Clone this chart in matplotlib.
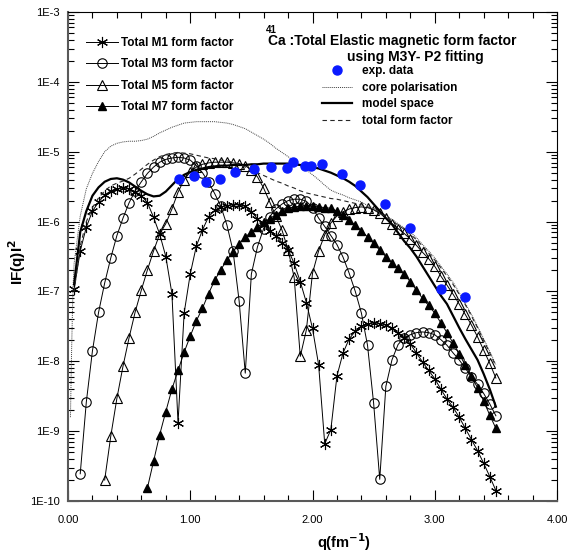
import numpy as np
import matplotlib
matplotlib.use('Agg')
import matplotlib.pyplot as plt
from matplotlib.ticker import FixedLocator, FuncFormatter, LogLocator, NullFormatter, MultipleLocator

plt.rcParams['font.family'] = ['Liberation Sans', 'DejaVu Sans']

# momentum transfer grid of the calculation (fm^-1)
q_grid = [0.05, 0.10, 0.15, 0.20, 0.25, 0.30, 0.35, 0.40, 0.45, 0.50,
          0.55, 0.60, 0.65, 0.70, 0.75, 0.80, 0.85, 0.90, 0.95, 1.00,
          1.05, 1.10, 1.15, 1.20, 1.25, 1.30, 1.35, 1.40, 1.45, 1.50,
          1.55, 1.60, 1.65, 1.70, 1.75, 1.80, 1.85, 1.90, 1.95, 2.00,
          2.05, 2.10, 2.15, 2.20, 2.25, 2.30, 2.35, 2.40, 2.45, 2.50,
          2.55, 2.60, 2.65, 2.70, 2.75, 2.80, 2.85, 2.90, 2.95, 3.00,
          3.05, 3.10, 3.15, 3.20, 3.25, 3.30, 3.35, 3.40, 3.45, 3.50]

# log10 |F(q)|^2
m1_log = [-6.97, -6.42, -6.08, -5.85, -5.72, -5.62, -5.56, -5.53, -5.52, -5.53,
          -5.57, -5.63, -5.73, -5.94, -6.18, -6.50, -7.03, -8.88, -7.31, -6.75,
          -6.35, -6.12, -5.93, -5.84, -5.79, -5.77, -5.76, -5.76, -5.78, -5.86,
          -5.96, -6.05, -6.13, -6.21, -6.30, -6.40, -6.60, -6.86, -7.16, -7.53,
          -8.05, -9.18, -8.98, -8.21, -7.88, -7.68, -7.57, -7.50, -7.47, -7.45,
          -7.46, -7.48, -7.53, -7.59, -7.66, -7.75, -7.88, -8.01, -8.13, -8.25,
          -8.40, -8.54, -8.66, -8.80, -8.96, -9.12, -9.28, -9.46, -9.65, -9.85]

m3_log = [-9.61, -8.58, -7.85, -7.30, -6.88, -6.52, -6.20, -5.95, -5.73,
          -5.56, -5.43, -5.31, -5.22, -5.15, -5.11, -5.09, -5.08, -5.09, -5.12,
          -5.20, -5.30, -5.44, -5.60, -5.78, -6.05, -6.42, -7.14, -8.17, -6.75,
          -6.36, -6.10, -5.93, -5.82, -5.75, -5.70, -5.68, -5.68, -5.71, -5.80,
          -5.95, -6.07, -6.20, -6.33, -6.51, -6.74, -7.00, -7.31, -7.77, -8.60,
          -9.69, -8.36, -7.98, -7.76, -7.66, -7.62, -7.59, -7.58, -7.59, -7.62,
          -7.69, -7.77, -7.88, -7.98, -8.10, -8.22, -8.33, -8.46, -8.61, -8.78]

m5_log = [-9.70, -9.07, -8.53, -8.07, -7.66,
          -7.29, -6.98, -6.69, -6.42, -6.18, -6.03, -5.82, -5.58, -5.40, -5.29,
          -5.22, -5.18, -5.16, -5.15, -5.15, -5.15, -5.16, -5.17, -5.20, -5.26,
          -5.36, -5.52, -5.72, -5.92, -6.12, -6.40, -6.80, -7.93, -7.55, -6.74,
          -6.42, -6.19, -6.02, -5.92, -5.86, -5.82, -5.80, -5.79, -5.80, -5.83,
          -5.88, -5.95, -6.03, -6.10, -6.17, -6.25, -6.34, -6.44, -6.53, -6.64,
          -6.78, -6.91, -7.04, -7.18, -7.33, -7.48, -7.65, -7.84, -8.03, -8.24]

m7_log = [-9.81, -9.43, -9.05, -8.72, -8.40, -8.13, -7.87, -7.64,
          -7.42, -7.24, -7.03, -6.84, -6.69, -6.55, -6.43, -6.32, -6.22, -6.15,
          -6.08, -6.01, -5.96, -5.90, -5.85, -5.81, -5.79, -5.78, -5.78, -5.78,
          -5.79, -5.80, -5.81, -5.85, -5.91, -5.98, -6.05, -6.13, -6.22, -6.31,
          -6.41, -6.50, -6.59, -6.67, -6.75, -6.86, -6.98, -7.10, -7.20, -7.31,
          -7.45, -7.59, -7.74, -7.89, -8.06, -8.21, -8.38, -8.57, -8.77, -8.96]

core_q_start = [0.02, 0.03, 0.04]
core_log = [-8.80, -7.80, -7.00,
            -6.60, -5.92, -5.53, -5.31, -5.14, -5.00, -4.92, -4.88, -4.86, -4.85,
            -4.85, -4.84, -4.82, -4.78, -4.73, -4.69, -4.65, -4.62, -4.59, -4.58,
            -4.57, -4.57, -4.57, -4.57, -4.58, -4.59, -4.61, -4.64, -4.67, -4.72,
            -4.77, -4.82, -4.88, -4.95, -5.01, -5.07, -5.14, -5.20, -5.26, -5.33,
            -5.40, -5.48, -5.55, -5.59, -5.62, -5.66, -5.69, -5.72, -5.77, -5.81,
            -5.86, -5.91, -5.97, -6.03, -6.09, -6.15, -6.23, -6.33, -6.42, -6.52,
            -6.64, -6.75, -6.87, -7.02, -7.17, -7.33, -7.50, -7.68, -7.86, -8.05]

model_log = [-6.90, -6.15, -5.85, -5.63, -5.51, -5.43, -5.39, -5.38, -5.40, -5.44,
             -5.50, -5.56, -5.61, -5.64, -5.63, -5.57, -5.48, -5.39, -5.33, -5.29,
             -5.26, -5.24, -5.22, -5.21, -5.20, -5.20, -5.19, -5.19, -5.19, -5.18,
             -5.18, -5.17, -5.17, -5.17, -5.17, -5.17, -5.18, -5.19, -5.20, -5.22,
             -5.24, -5.27, -5.30, -5.34, -5.38, -5.43, -5.49, -5.57, -5.65, -5.75,
             -5.85, -5.95, -6.04, -6.16, -6.28, -6.38, -6.50, -6.64, -6.78, -6.92,
             -7.06, -7.18, -7.35, -7.52, -7.68, -7.83, -7.98, -8.18, -8.40, -8.65]

total_log = [-7.00, -6.35, -6.00, -5.80, -5.66, -5.56, -5.49, -5.45, -5.42, -5.38,
             -5.32, -5.25, -5.18, -5.12, -5.07, -5.04, -5.02, -5.01, -5.02, -5.03,
             -5.05, -5.07, -5.09, -5.10, -5.12, -5.13, -5.15, -5.18, -5.22, -5.26,
             -5.30, -5.34, -5.38, -5.42, -5.45, -5.49, -5.52, -5.56, -5.59, -5.61,
             -5.63, -5.65, -5.67, -5.68, -5.70, -5.72, -5.74, -5.76, -5.79, -5.83,
             -5.88, -5.93, -5.99, -6.05, -6.11, -6.18, -6.26, -6.35, -6.45, -6.55,
             -6.66, -6.78, -6.90, -7.04, -7.19, -7.35, -7.52, -7.70, -7.88, -8.07]

exp_q = [0.91, 1.03, 1.13, 1.24, 1.37, 1.52, 1.66, 1.79, 1.84, 1.94,
         1.99, 2.08, 2.24, 2.39, 2.59, 2.80, 3.05, 3.25]
exp_f = [4.1e-6, 4.5e-6, 3.7e-6, 4.1e-6, 5.2e-6, 5.6e-6, 6.0e-6, 5.8e-6, 7.1e-6, 6.3e-6,
         6.3e-6, 6.6e-6, 4.8e-6, 3.3e-6, 1.8e-6, 8.1e-7, 1.1e-7, 8.3e-8]


def lin(values):
    return np.power(10.0, np.array(values))


W, H = 567, 559
fig = plt.figure(figsize=(W / 100, H / 100), dpi=100)
ax = fig.add_axes([68 / W, 1 - 501 / H, (557 - 68) / W, (501 - 12) / H])

q = np.array(q_grid)
h_m1, = ax.plot(q, lin(m1_log), '-', color='black', lw=0.7,
                marker=(6, 2, 0), ms=8, mew=0.8, mec='black')
h_m3, = ax.plot(q[1:], lin(m3_log), '-', color='black', lw=0.7,
                marker='o', ms=6.8, mfc='none', mew=0.8, mec='black')
h_m5, = ax.plot(q[5:], lin(m5_log), '-', color='black', lw=0.7,
                marker='^', ms=6.8, mfc='none', mew=0.8, mec='black')
h_m7, = ax.plot(q[12:], lin(m7_log), '-', color='black', lw=0.7,
                marker='^', ms=6.3, mfc='black', mec='black')

h_core, = ax.plot(core_q_start + q_grid, lin(core_log), color='0.25', lw=0.7,
                  linestyle=(0, (1, 1)))
h_model, = ax.plot(q, lin(model_log), color='black', lw=1.6)
h_total, = ax.plot(q, lin(total_log), color='0.15', lw=0.8, linestyle=(0, (4, 3)))
h_exp, = ax.plot(exp_q, exp_f, 'o', color='#0a1aff', ms=6.5, mec='#0a1aff')

ax.set_yscale('log')
ax.set_xlim(0, 4)
ax.set_ylim(1e-10, 1e-3)

ax.xaxis.set_major_locator(MultipleLocator(1.0))
ax.xaxis.set_minor_locator(MultipleLocator(0.2))
ax.xaxis.set_major_formatter(FuncFormatter(lambda v, p: f'{v:.2f}'))
ax.yaxis.set_major_locator(FixedLocator([1e-10, 1e-9, 1e-8, 1e-7, 1e-6, 1e-5, 1e-4, 1e-3]))
ax.yaxis.set_minor_locator(LogLocator(base=10, subs=np.arange(2, 10), numticks=20))
ax.yaxis.set_minor_formatter(NullFormatter())
ax.yaxis.set_major_formatter(FuncFormatter(lambda v, p: f'1E{int(round(np.log10(v)))}'))

ax.tick_params(which='both', direction='in', top=True, right=True, labelsize=8, width=0.8)
ax.tick_params(which='major', length=8)
ax.tick_params(which='minor', length=4.5)
ax.tick_params(axis='x', which='major', pad=10)
ax.tick_params(axis='y', which='major', pad=6)
for side in ['left', 'bottom']:
    ax.spines[side].set_linewidth(1.5)
    ax.spines[side].set_color('0.35')

ax.set_xlabel(r'q(fm$^{\mathbf{-1}}$)', fontsize=10.5, fontweight='bold')
ax.xaxis.set_label_coords((344 - 68) / (557 - 68), -(531 - 501) / (501 - 12))
ax.set_ylabel(r'IF(q)I$^{\mathbf{2}}$', fontsize=11, fontweight='bold')
ax.yaxis.set_label_coords(-(68 - 28) / (557 - 68), (501 - 262) / (501 - 12))

leg1 = ax.legend([h_m1, h_m3, h_m5, h_m7],
                 ['Total M1 form factor', 'Total M3 form factor',
                  'Total M5 form factor', 'Total M7 form factor'],
                 loc='upper left', bbox_to_anchor=(86 / W, 1 - 37 / H),
                 bbox_transform=fig.transFigure, frameon=False, numpoints=1,
                 handlelength=2.7, handletextpad=0.3, labelspacing=0.8,
                 borderpad=0, borderaxespad=0, prop={'size': 8.5, 'weight': 'bold'})
ax.add_artist(leg1)

ax.legend([h_exp, h_core, h_model, h_total],
          ['exp. data', 'core polarisation', 'model space', 'total form factor'],
          loc='upper left', bbox_to_anchor=(322 / W, 1 - 65 / H),
          bbox_transform=fig.transFigure, frameon=False, numpoints=1,
          handlelength=2.55, handletextpad=0.85, labelspacing=0.4,
          borderpad=0, borderaxespad=0, prop={'size': 8.5, 'weight': 'bold'})

fig.text(266 / W, 1 - 30 / H, '41', fontsize=7, fontweight='bold', ha='left', va='center')
fig.text(268 / W, 1 - 41 / H, 'Ca :Total Elastic magnetic form factor',
         fontsize=10, fontweight='bold', ha='left', va='center')
fig.text(347 / W, 1 - 57 / H, 'using M3Y- P2 fitting',
         fontsize=10, fontweight='bold', ha='left', va='center')

fig.savefig('out.png', dpi=100)
